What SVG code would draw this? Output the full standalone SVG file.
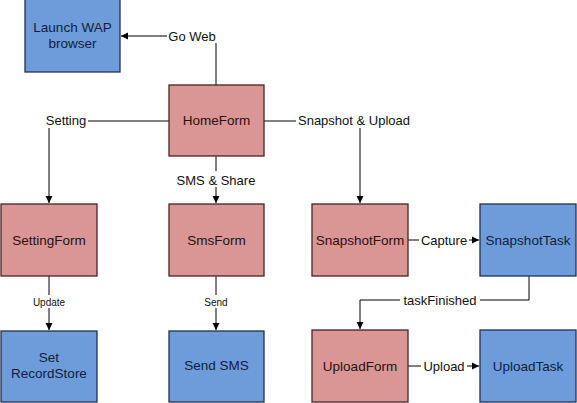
<svg xmlns="http://www.w3.org/2000/svg" width="577" height="403" viewBox="0 0 577 403">
<defs>
<marker id="arr" markerWidth="8" markerHeight="8" refX="7" refY="4" orient="auto" markerUnits="userSpaceOnUse">
<path d="M0,0.5 L7,4 L0,7.5 z" fill="#000"/>
</marker>
<style>
.pink{fill:#D99694;stroke:#4A2424;stroke-width:1.3}
.blue{fill:#6E9BDA;stroke:#22324F;stroke-width:1.3}
.nt{font-family:"Liberation Sans",Arial,sans-serif;font-size:13.5px;text-anchor:middle}
.pt{fill:#2A1010}
.bt{fill:#0F1E40}
.ln{fill:none;stroke:#000;stroke-width:1}
.lb{font-family:"Liberation Sans",Arial,sans-serif;font-size:13px;text-anchor:middle;fill:#111}
.sm{font-size:10px}
.bg{fill:#fff}
</style>
</defs>
<rect width="577" height="403" fill="#fff"/>
<g id="connectors">
<path class="ln" d="M216,85 V36 H121" marker-end="url(#arr)"/>
<path class="ln" d="M169,121 H49 V203" marker-end="url(#arr)"/>
<path class="ln" d="M216,156 V203" marker-end="url(#arr)"/>
<path class="ln" d="M264,121 H360 V203" marker-end="url(#arr)"/>
<path class="ln" d="M408,240 H479" marker-end="url(#arr)"/>
<path class="ln" d="M529,276 V300 H360 V329" marker-end="url(#arr)"/>
<path class="ln" d="M408,366 H479" marker-end="url(#arr)"/>
<path class="ln" d="M49,276 V330" marker-end="url(#arr)"/>
<path class="ln" d="M216,276 V330" marker-end="url(#arr)"/>
<rect class="bg" x="167" y="28" width="50" height="15"/>
<text class="lb" x="192" y="41">Go Web</text>
<rect class="bg" x="45" y="112" width="43" height="16"/>
<text class="lb" x="66" y="125">Setting</text>
<rect class="bg" x="170" y="171" width="92" height="16"/>
<text class="lb" x="216" y="185">SMS &amp; Share</text>
<rect class="bg" x="296" y="112" width="117" height="16"/>
<text class="lb" x="354" y="125">Snapshot &amp; Upload</text>
<rect class="bg" x="419" y="232" width="50" height="16"/>
<text class="lb" x="444" y="245">Capture</text>
<rect class="bg" x="400" y="292" width="80" height="16"/>
<text class="lb" x="440" y="305">taskFinished</text>
<rect class="bg" x="421" y="358" width="46" height="16"/>
<text class="lb" x="444" y="371">Upload</text>
<rect class="bg" x="30" y="295" width="38" height="13"/>
<text class="lb sm" x="49" y="306">Update</text>
<rect class="bg" x="202" y="295" width="28" height="13"/>
<text class="lb sm" x="216" y="306">Send</text>
</g>
<g id="launch"><rect class="blue" x="25" y="-1" width="95" height="73"/><text class="nt bt" x="72.5" y="32">Launch WAP</text><text class="nt bt" x="72.5" y="48">browser</text></g>
<g id="homeform"><rect class="pink" x="169" y="85" width="95" height="71"/><text class="nt pt" x="216.5" y="125">HomeForm</text></g>
<g id="settingform"><rect class="pink" x="1" y="204" width="96" height="72"/><text class="nt pt" x="49" y="245">SettingForm</text></g>
<g id="smsform"><rect class="pink" x="169" y="204" width="95" height="72"/><text class="nt pt" x="216.5" y="245">SmsForm</text></g>
<g id="snapshotform"><rect class="pink" x="312" y="204" width="96" height="72"/><text class="nt pt" x="360" y="245">SnapshotForm</text></g>
<g id="snapshottask"><rect class="blue" x="480" y="204" width="96" height="72"/><text class="nt bt" x="528" y="245">SnapshotTask</text></g>
<g id="setrecordstore"><rect class="blue" x="1" y="331" width="96" height="71"/><text class="nt bt" x="49" y="362">Set</text><text class="nt bt" x="49" y="378">RecordStore</text></g>
<g id="sendsms"><rect class="blue" x="169" y="331" width="95" height="71"/><text class="nt bt" x="216.5" y="370">Send SMS</text></g>
<g id="uploadform"><rect class="pink" x="312" y="330" width="96" height="72"/><text class="nt pt" x="360" y="371">UploadForm</text></g>
<g id="uploadtask"><rect class="blue" x="480" y="330" width="96" height="72"/><text class="nt bt" x="528" y="371">UploadTask</text></g>
</svg>
